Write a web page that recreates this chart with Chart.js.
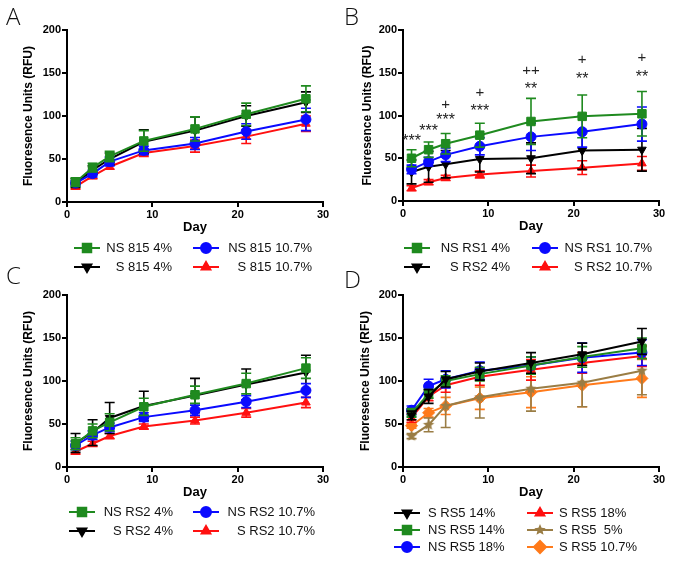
<!DOCTYPE html>
<html>
<head>
<meta charset="utf-8">
<script src="https://cdn.jsdelivr.net/npm/chart.js@4.4.1/dist/chart.umd.min.js"></script>
<style>
  body { margin: 0; background: #fff; width: 679px; height: 567px; overflow: hidden; position: relative; }
  .panel { position: absolute; }
  .letter { position: absolute; font-family: "Open Sans", sans-serif; font-weight: 300; font-size: 24px; line-height: 1; color: #111; }
</style>
</head>
<body>
<div class="panel" style="left:0;top:0;width:340px;height:280px"><canvas id="chartA"></canvas></div>
<div class="panel" style="left:340px;top:0;width:339px;height:280px"><canvas id="chartB"></canvas></div>
<div class="panel" style="left:0;top:280px;width:340px;height:287px"><canvas id="chartC"></canvas></div>
<div class="panel" style="left:340px;top:280px;width:339px;height:287px"><canvas id="chartD"></canvas></div>
<div class="letter" style="left:6px;top:4px">A</div>
<div class="letter" style="left:344px;top:4px">B</div>
<div class="letter" style="left:6px;top:263px">C</div>
<div class="letter" style="left:344px;top:267px">D</div>

<script>
// sampling days
const days = [1, 3, 5, 9, 15, 21, 28];

// panel A
const aLabels = ['NS 815 4%', 'NS 815 10.7%', 'S 815 4%', 'S 815 10.7%'];
const aNS4 = [23, 40, 53, 71, 85, 102, 120];
const aNS4Err = [5, 5, 6, 12, 14, 13, 15];
const aNS107 = [22, 33, 47, 60, 68, 82, 96];
const aNS107Err = [3, 4, 5, 5, 7, 9, 13];
const aS4 = [22, 37, 50, 70, 83, 100, 116];
const aS4Err = [5, 5, 7, 14, 16, 12, 12];
const aS107 = [18, 30, 41, 57, 65, 76, 91];
const aS107Err = [3, 3, 3, 4, 7, 8, 9];

// panel B
const bLabels = ['NS RS1 4%', 'NS RS1 10.7%', 'S RS2 4%', 'S RS2 10.7%'];
const bNS4 = [50, 60, 67, 77, 93, 99, 102];
const bNS4Err = [10, 9, 12, 14, 27, 25, 26];
const bNS107 = [37, 46, 54, 64, 75, 81, 90];
const bNS107Err = [5, 5, 8, 10, 16, 18, 20];
const bS4 = [34, 40, 43, 49, 50, 59, 60];
const bS4Err = [14, 18, 16, 15, 18, 22, 25];
const bS107 = [15, 22, 27, 31, 35, 39, 44];
const bS107Err = [3, 3, 3, 4, 7, 8, 8];
// significance marks in panel B
const bStars = ['***', '***', '***', '***', '**', '**', '**'];
const bStarY = [73, 85, 98, 108, 134, 146, 148];
const bPlus = ['', '', '+', '+', '++', '+', '+'];
const bPlusY = [null, null, 112, 127, 152, 165, 168];

// panel C
const cLabels = ['NS RS2 4%', 'NS RS2 10.7%', 'S RS2 4%', 'S RS2 10.7%'];
const cNS4 = [27, 42, 52, 70, 84, 97, 115];
const cNS4Err = [7, 8, 10, 10, 10, 12, 12];
const cNS107 = [25, 37, 46, 58, 66, 76, 89];
const cNS107Err = [5, 5, 5, 5, 6, 7, 8];
const cS4 = [28, 40, 57, 71, 83, 96, 110];
const cS4Err = [11, 15, 18, 17, 20, 18, 20];
const cS107 = [18, 27, 36, 47, 54, 63, 75];
const cS107Err = [3, 3, 3, 3, 4, 5, 6];

// panel D
const dLabels = ['S RS5 14%', 'NS RS5 14%', 'NS RS5 18%', 'S RS5 18%', 'S RS5  5%', 'S RS5 10.7%'];
const dS14 = [60, 82, 102, 111, 121, 131, 146];
const dS14Err = [5, 8, 9, 10, 12, 13, 15];
const dNS14 = [63, 85, 100, 108, 118, 128, 138];
const dNS14Err = [5, 5, 6, 8, 10, 12, 12];
const dNS18 = [66, 94, 102, 112, 118, 127, 133];
const dNS18Err = [5, 8, 10, 10, 10, 17, 15];
const dS18 = [57, 82, 95, 105, 113, 121, 129];
const dS18Err = [5, 5, 8, 10, 12, 12, 12];
const dS5 = [36, 49, 71, 81, 91, 98, 112];
const dS5Err = [3, 8, 25, 24, 26, 28, 28];
const dS107 = [48, 63, 71, 80, 87, 95, 103];
const dS107Err = [3, 5, 10, 13, 18, 25, 22];

const GREEN = '#1f8a1f', BLUE = '#0a0aff', BLACK = '#000000', RED = '#ff1010', BROWN = '#9a7d45', ORANGE = '#ff7a1a';
const FONT = '"Liberation Sans", Arial, sans-serif';

function starImage(color, r) {
  const c = document.createElement('canvas');
  const s = Math.ceil(r * 2 + 2);
  c.width = s; c.height = s;
  const g = c.getContext('2d');
  g.fillStyle = color;
  g.beginPath();
  for (let k = 0; k < 10; k++) {
    const rad = k % 2 ? r * 0.45 : r;
    const a = -Math.PI / 2 + k * Math.PI / 5;
    g.lineTo(s / 2 + rad * Math.cos(a), s / 2 + rad * Math.sin(a));
  }
  g.closePath();
  g.fill();
  return c;
}

function series(label, vals, errs, color, style, rot) {
  const r = style === 'rect' ? 6 : (style === 'rectRot' ? 6 : 5);
  return {
    label: label,
    data: days.map((d, i) => ({ x: d, y: vals[i] })),
    errors: errs,
    borderColor: color,
    backgroundColor: color,
    pointBackgroundColor: color,
    pointBorderColor: color,
    pointStyle: style,
    pointRotation: rot || 0,
    pointRadius: r,
    pointBorderWidth: 1,
    borderWidth: 2,
    tension: 0,
    clip: false
  };
}

// error bars under each series' line and markers
const errorBars = {
  id: 'errorBars',
  beforeDatasetDraw(chart, args) {
    const ds = chart.data.datasets[args.index];
    if (!ds.errors) return;
    const y = chart.scales.y, ctx = chart.ctx;
    ctx.save();
    ctx.strokeStyle = ds.borderColor;
    ctx.lineWidth = 1.6;
    args.meta.data.forEach((pt, i) => {
      const v = ds.data[i].y, e = ds.errors[i];
      const top = y.getPixelForValue(v + e), bot = y.getPixelForValue(v - e);
      ctx.beginPath();
      ctx.moveTo(pt.x, top); ctx.lineTo(pt.x, bot);
      ctx.moveTo(pt.x - 5, top); ctx.lineTo(pt.x + 5, top);
      ctx.moveTo(pt.x - 5, bot); ctx.lineTo(pt.x + 5, bot);
      ctx.stroke();
    });
    ctx.restore();
  }
};

// two-column legend drawn below each plot
const sideLegend = {
  id: 'sideLegend',
  afterDraw(chart, args, opts) {
    if (!opts.slots) return;
    const ctx = chart.ctx;
    ctx.save();
    chart.data.datasets.forEach((ds, i) => {
      const s = opts.slots[i];
      if (!s) return;
      ctx.strokeStyle = ds.borderColor;
      ctx.lineWidth = 2;
      ctx.beginPath();
      ctx.moveTo(s.x - 13, s.y); ctx.lineTo(s.x + 13, s.y);
      ctx.stroke();
      ctx.fillStyle = ds.borderColor;
      Chart.helpers.drawPoint(ctx, { pointStyle: ds.pointStyle, rotation: ds.pointRotation, radius: ds.pointRadius, borderWidth: 1 }, s.x, s.y);
      ctx.fillStyle = '#111';
      ctx.font = '13px ' + FONT;
      ctx.textBaseline = 'middle';
      ctx.textAlign = s.align;
      ctx.fillText(ds.label, s.tx, s.y);
    });
    ctx.restore();
  }
};

// significance symbols for panel B
const sigMarks = {
  id: 'sigMarks',
  afterDatasetsDraw(chart, args, opts) {
    if (!opts.stars) return;
    const ctx = chart.ctx, x = chart.scales.x, y = chart.scales.y;
    ctx.save();
    ctx.fillStyle = '#222';
    ctx.textAlign = 'center';
    ctx.textBaseline = 'middle';
    days.forEach((d, i) => {
      const px = x.getPixelForValue(d);
      ctx.font = '16px ' + FONT;
      ctx.fillText(opts.stars[i], px, y.getPixelForValue(opts.starY[i]) + 3);
      if (opts.plus[i]) {
        ctx.font = '15px ' + FONT;
        ctx.fillText(opts.plus[i], px, y.getPixelForValue(opts.plusY[i]));
      }
    });
    ctx.restore();
  }
};

function makeChart(id, datasets, geo, plugins) {
  const tickFont = { family: FONT, size: 11, weight: 'bold' };
  return new Chart(document.getElementById(id), {
    type: 'line',
    data: { datasets: datasets },
    options: {
      responsive: true,
      maintainAspectRatio: false,
      animation: false,
      layout: { padding: { left: 0, right: geo.right, top: geo.top, bottom: geo.bottom } },
      plugins: {
        legend: { display: false },
        tooltip: { enabled: false },
        sideLegend: { slots: geo.slots },
        sigMarks: plugins || {}
      },
      scales: {
        x: {
          type: 'linear', min: 0, max: 30,
          ticks: { stepSize: 10, color: '#000', font: tickFont, padding: 1, maxRotation: 0 },
          grid: { drawOnChartArea: false, drawTicks: true, tickLength: 5, color: '#000', lineWidth: 2 },
          border: { color: '#000', width: 2 },
          title: { display: true, text: 'Day', color: '#000', font: { family: FONT, size: 13, weight: 'bold' }, padding: 0 },
          afterFit: s => { s.height = 33; }
        },
        y: {
          min: 0, max: 200,
          ticks: { stepSize: 50, color: '#000', font: tickFont, padding: 1 },
          grid: { drawOnChartArea: false, drawTicks: true, tickLength: 5, color: '#000', lineWidth: 2 },
          border: { color: '#000', width: 2 },
          title: { display: true, text: 'Fluoresence Units (RFU)', color: '#000', font: { family: FONT, size: 12, weight: 'bold' }, padding: { top: geo.titlePad, bottom: 0 } },
          afterFit: s => { s.width = geo.yWidth; }
        }
      }
    },
    plugins: [errorBars, sideLegend, sigMarks]
  });
}

makeChart('chartA', [
  series(aLabels[0], aNS4, aNS4Err, GREEN, 'rect'),
  series(aLabels[1], aNS107, aNS107Err, BLUE, 'circle'),
  series(aLabels[2], aS4, aS4Err, BLACK, 'triangle', 180),
  series(aLabels[3], aS107, aS107Err, RED, 'triangle')
], {
  yWidth: 67, right: 17, top: 30, bottom: 45, titlePad: 21,
  slots: [
    { x: 87, y: 248, tx: 172, align: 'right' },
    { x: 206, y: 248, tx: 312, align: 'right' },
    { x: 87, y: 267, tx: 172, align: 'right' },
    { x: 206, y: 267, tx: 312, align: 'right' }
  ]
});

makeChart('chartB', [
  series(bLabels[0], bNS4, bNS4Err, GREEN, 'rect'),
  series(bLabels[1], bNS107, bNS107Err, BLUE, 'circle'),
  series(bLabels[2], bS4, bS4Err, BLACK, 'triangle', 180),
  series(bLabels[3], bS107, bS107Err, RED, 'triangle')
], {
  yWidth: 63, right: 20, top: 30, bottom: 46, titlePad: 20,
  slots: [
    { x: 77, y: 248, tx: 170, align: 'right' },
    { x: 205, y: 248, tx: 312, align: 'right' },
    { x: 77, y: 267, tx: 170, align: 'right' },
    { x: 205, y: 267, tx: 312, align: 'right' }
  ]
}, { stars: bStars, starY: bStarY, plus: bPlus, plusY: bPlusY });

makeChart('chartC', [
  series(cLabels[0], cNS4, cNS4Err, GREEN, 'rect'),
  series(cLabels[1], cNS107, cNS107Err, BLUE, 'circle'),
  series(cLabels[2], cS4, cS4Err, BLACK, 'triangle', 180),
  series(cLabels[3], cS107, cS107Err, RED, 'triangle')
], {
  yWidth: 67, right: 17, top: 15, bottom: 67, titlePad: 21,
  slots: [
    { x: 82, y: 232, tx: 173, align: 'right' },
    { x: 206, y: 232, tx: 315, align: 'right' },
    { x: 82, y: 251, tx: 173, align: 'right' },
    { x: 206, y: 251, tx: 315, align: 'right' }
  ]
});

makeChart('chartD', [
  series(dLabels[0], dS14, dS14Err, BLACK, 'triangle', 180),
  series(dLabels[1], dNS14, dNS14Err, GREEN, 'rect'),
  series(dLabels[2], dNS18, dNS18Err, BLUE, 'circle'),
  series(dLabels[3], dS18, dS18Err, RED, 'triangle'),
  series(dLabels[4], dS5, dS5Err, BROWN, starImage(BROWN, 6)),
  series(dLabels[5], dS107, dS107Err, ORANGE, 'rectRot')
], {
  yWidth: 63, right: 20, top: 15, bottom: 67, titlePad: 18,
  slots: [
    { x: 67, y: 233, tx: 88, align: 'left' },
    { x: 67, y: 250, tx: 88, align: 'left' },
    { x: 67, y: 267, tx: 88, align: 'left' },
    { x: 200, y: 233, tx: 219, align: 'left' },
    { x: 200, y: 250, tx: 219, align: 'left' },
    { x: 200, y: 267, tx: 219, align: 'left' }
  ]
});
</script>
</body>
</html>
